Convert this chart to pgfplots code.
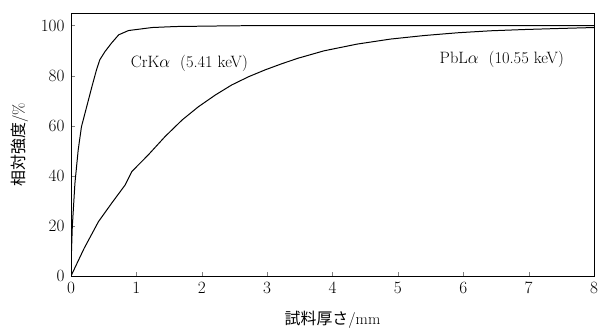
\documentclass[border=0pt]{standalone}
\usepackage{fontspec}
\usepackage{pgfplots}
\pgfplotsset{compat=1.18}
\newfontfamily\jp{Noto Sans CJK JP}
\begin{document}
\fontsize{16}{18}\selectfont
\begin{tikzpicture}
\begin{axis}[
  scale only axis,
  width=523bp, height=263bp,
  xmin=0, xmax=8, ymin=0, ymax=105,
  xtick={0,1,...,8}, ytick={0,20,...,100},
  tick pos=left, tick align=inside,
  major tick length=4bp,
  tick label style={font=\fontsize{16.5}{18}\selectfont},
  xticklabel style={yshift=-1bp},
  yticklabel style={xshift=-1bp},
  xlabel={{\jp 試料厚さ}/mm},
  ylabel={{\jp 相対強度}/\%},
  label style={font=\fontsize{16}{18}\selectfont},
  xlabel style={yshift=-7bp},
  ylabel style={yshift=2bp},
  axis line style={line width=0.8pt},
]
\addplot[black, line width=1pt] coordinates {
(0,0) (0.005,8) (0.02,19.7) (0.06,37) (0.11,50.3) (0.16,59.6) (0.24,67.6) (0.32,75.6) (0.39,82.3) (0.44,86.3) (0.52,89.6) (0.62,93) (0.73,96.3) (0.88,98) (1.24,99.2) (1.6,99.6) (2.5,99.9) (3.5,100) (8,100)
};
\addplot[black, line width=1pt] coordinates {
(0,0) (0.2,11) (0.42,21.7) (0.62,29) (0.83,36.4) (0.93,41.7) (1.18,48.3) (1.44,55.7) (1.70,62.3) (1.95,67.6) (2.21,72.3) (2.46,76.3) (2.72,79.6) (2.97,82.3) (3.23,84.8) (3.48,87) (3.87,89.9) (4.38,92.6) (4.89,94.6) (5.40,96) (5.91,97.1) (6.42,97.9) (6.93,98.4) (7.44,98.8) (8,99.2)
};
\node[font=\fontsize{16.5}{18}\selectfont] at (axis cs:1.81,85) {CrK$\alpha$\ \ (5.41 keV)};
\node[font=\fontsize{16.5}{18}\selectfont] at (axis cs:6.59,86.3) {PbL$\alpha$\ \ (10.55 keV)};
\coordinate (sw) at (rel axis cs:0,0);
\coordinate (ne) at (rel axis cs:1,1);
\end{axis}
\pgfresetboundingbox
\path[use as bounding box] ([shift={(-71bp,-55bp)}]sw) rectangle ([shift={(4bp,13bp)}]ne);
\end{tikzpicture}
\end{document}
